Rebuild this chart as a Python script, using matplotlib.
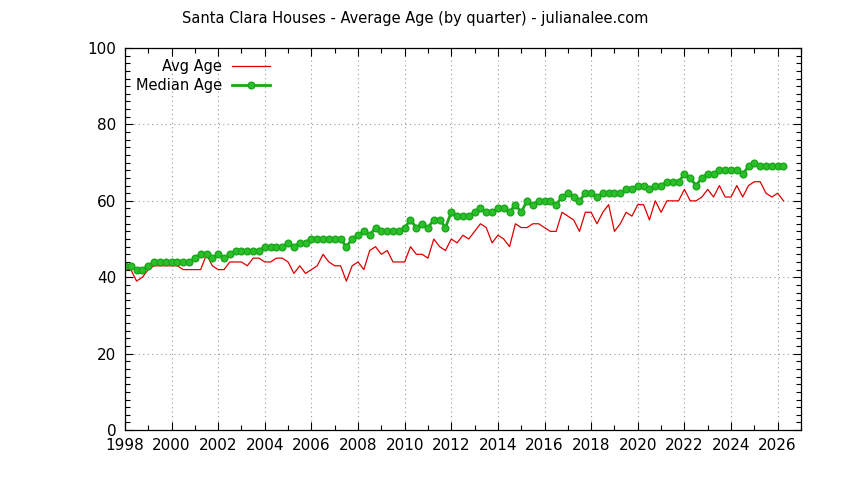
# graf priemerneho a median veku domov v Santa Clara (po kvartaloch)
import numpy as np
import matplotlib.pyplot as plt

# --- data (odcitane z grafu, kvartaly od 1998 Q1) ---
avg_age = [42, 42, 39, 40, 42, 43, 43, 43, 43, 43, 42, 42, 42, 42, 46, 43,
           42, 42, 44, 44, 44, 43, 45, 45, 44, 44, 45, 45, 44, 41, 43, 41,
           42, 43, 46, 44, 43, 43, 39, 43, 44, 42, 47, 48, 46, 47, 44, 44,
           44, 48, 46, 46, 45, 50, 48, 47, 50, 49, 51, 50, 52, 54, 53, 49,
           51, 50, 48, 54, 53, 53, 54, 54, 53, 52, 52, 57, 56, 55, 52, 57,
           57, 54, 57, 59, 52, 54, 57, 56, 59, 59, 55, 60, 57, 60, 60, 60,
           63, 60, 60, 61, 63, 61, 64, 61, 61, 64, 61, 64, 65, 65, 62, 61,
           62, 60]

median_age = [43, 43, 42, 42, 43, 44, 44, 44, 44, 44, 44, 44, 45, 46, 46, 45,
              46, 45, 46, 47, 47, 47, 47, 47, 48, 48, 48, 48, 49, 48, 49, 49,
              50, 50, 50, 50, 50, 50, 48, 50, 51, 52, 51, 53, 52, 52, 52, 52,
              53, 55, 53, 54, 53, 55, 55, 53, 57, 56, 56, 56, 57, 58, 57, 57,
              58, 58, 57, 59, 57, 60, 59, 60, 60, 60, 59, 61, 62, 61, 60, 62,
              62, 61, 62, 62, 62, 62, 63, 63, 64, 64, 63, 64, 64, 65, 65, 65,
              67, 66, 64, 66, 67, 67, 68, 68, 68, 68, 67, 69, 70, 69, 69, 69,
              69, 69]

x_ticks = [1998, 2000, 2002, 2004, 2006, 2008, 2010, 2012, 2014, 2016,
           2018, 2020, 2022, 2024, 2026]
y_ticks = [0, 20, 40, 60, 80, 100]

# casova os - kvartaly
kvartaly = 1998 + np.arange(len(median_age)) / 4

fig = plt.figure(figsize=(8.44, 4.8), dpi=100)
ax = fig.add_axes([0.148, 0.104, 0.801, 0.796])

# ciary
ax.plot(kvartaly, avg_age, "-", color="#dd0000", lw=0.9, label="Avg Age")
ax.plot(kvartaly, median_age, "-", color="#1aa81a", lw=2.0, marker="o",
        markersize=4.8, markerfacecolor="#2cbf2c", markeredgecolor="#1aa81a",
        markeredgewidth=1.0, label="Median Age")

# osi
ax.set_xlim(1998, 2027)
ax.set_ylim(0, 100)
ax.set_xticks(x_ticks)
ax.set_xticks(np.arange(1998, 2028), minor=True)
ax.set_yticks(y_ticks)
ax.set_yticks(np.arange(0, 101, 2), minor=True)
ax.tick_params(which="both", direction="in", top=True, right=True,
               labelsize=11, width=0.8)
ax.tick_params(which="major", length=6, pad=6)
ax.tick_params(which="minor", length=3.5)
for s in ax.spines.values():
    s.set_linewidth(0.9)

# mriezka
ax.grid(True, which="major", linestyle=(0, (1, 3)), color="#999999", lw=0.8)

# legenda v lavo hore (text pred ciarou ako v gnuplote)
ax.legend(loc="upper left", bbox_to_anchor=(0.0, 1.0), frameon=False,
          markerfirst=False, fontsize=10.5, handlelength=2.6,
          borderaxespad=0.35, labelspacing=0.3, handletextpad=0.7)

fig.text(0.492, 0.962, "Santa Clara Houses - Average Age (by quarter) - julianalee.com",
         ha="center", va="center", fontsize=10.5)

fig.savefig("out.png", dpi=100)
